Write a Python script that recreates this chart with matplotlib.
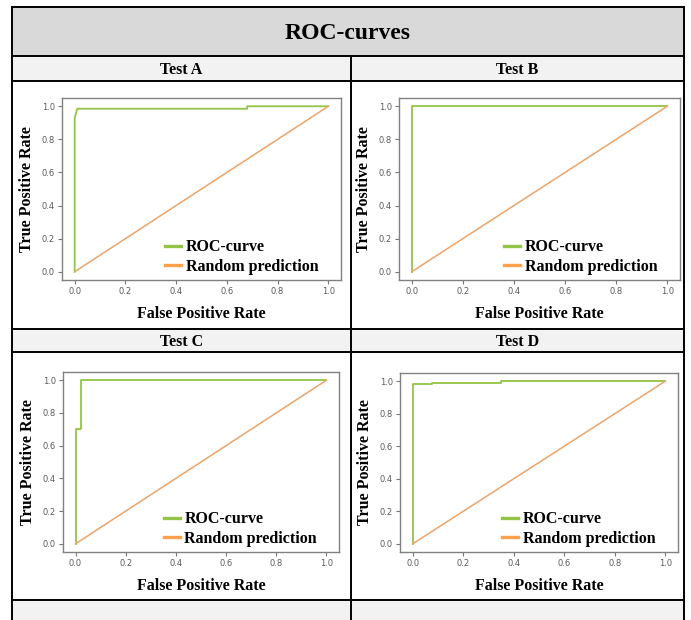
import matplotlib
matplotlib.use("Agg")
import matplotlib.pyplot as plt
from matplotlib.patches import Rectangle
from matplotlib.lines import Line2D

W, H = 691, 620

# ROC data
fpr_a = [0.0, 0.0, 0.01, 0.68, 0.68, 1.0]
tpr_a = [0.0, 0.93, 0.985, 0.985, 1.0, 1.0]
fpr_b = [0.0, 0.0, 1.0]
tpr_b = [0.0, 1.0, 1.0]
fpr_c = [0.0, 0.0, 0.02, 0.02, 1.0]
tpr_c = [0.0, 0.7, 0.7, 1.0, 1.0]
fpr_d = [0.0, 0.0, 0.075, 0.075, 0.35, 0.35, 1.0]
tpr_d = [0.0, 0.982, 0.982, 0.99, 0.99, 1.0, 1.0]
rand_x = [0.0, 1.0]
rand_y = [0.0, 1.0]

titles = ["Test A", "Test B", "Test C", "Test D"]
curves = [(fpr_a, tpr_a), (fpr_b, tpr_b), (fpr_c, tpr_c), (fpr_d, tpr_d)]
ticks = [0.0, 0.2, 0.4, 0.6, 0.8, 1.0]
tick_labels = ["0.0", "0.2", "0.4", "0.6", "0.8", "1.0"]

GREEN = "#93c447"
ORANGE = "#eba46a"
SERIF = "Liberation Serif"

fig = plt.figure(figsize=(W / 100, H / 100), dpi=100)


def fx(x):
    return x / W


def fy(y):
    return 1 - y / H


def box(x0, y0, x1, y1, color):
    fig.patches.append(Rectangle((fx(x0), fy(y1)), fx(x1) - fx(x0), fy(y0) - fy(y1),
                                 transform=fig.transFigure, facecolor=color, edgecolor="none", zorder=0))


def hline(y, x0, x1):
    fig.lines.append(Line2D([fx(x0), fx(x1)], [fy(y), fy(y)], transform=fig.transFigure,
                            color="black", lw=1.4, zorder=5))


def vline(x, y0, y1):
    fig.lines.append(Line2D([fx(x), fx(x)], [fy(y0), fy(y1)], transform=fig.transFigure,
                            color="black", lw=1.4, zorder=5))


L, M, R = 12, 351, 684
# table backgrounds
box(L, 7, R, 56, "#d9d9d9")
box(L, 56, R, 81, "#f2f2f2")
box(L, 329, R, 352, "#f2f2f2")
box(L, 600, R, H, "#f2f2f2")

for y in [7, 56, 81, 329, 352, 600]:
    hline(y, L, R)
vline(L, 7, H)
vline(R, 7, H)
vline(M, 56, H)

fig.text(fx((L + R) / 2), fy(33.5), "ROC-curves", ha="center", va="center",
         family=SERIF, weight="bold", fontsize=17)
head_pos = [((L + M) / 2, 70), ((M + R) / 2, 70), ((L + M) / 2, 342), ((M + R) / 2, 342)]
for t, (cx, cy) in zip(titles, head_pos):
    fig.text(fx(cx), fy(cy), t, ha="center", va="center", family=SERIF, weight="bold", fontsize=11.5)

# axes boxes in pixels: left, top, right, bottom
boxes = [(62, 98, 341, 280), (399, 98, 680, 280), (63, 372, 339, 552), (400, 373, 678, 552)]

for (x0, y0, x1, y1), (fp, tp) in zip(boxes, curves):
    ax = fig.add_axes([fx(x0), fy(y1), fx(x1) - fx(x0), fy(y0) - fy(y1)])
    ax.plot(fp, tp, color=GREEN, lw=1.3, label="ROC-curve")
    ax.plot(rand_x, rand_y, color=ORANGE, lw=1.1, label="Random prediction")
    ax.set_xticks(ticks)
    ax.set_xticklabels(tick_labels)
    ax.set_yticks(ticks)
    ax.set_yticklabels(tick_labels)
    ax.tick_params(labelsize=6, labelcolor="#5a5a5a", color="#777777", length=3, width=0.8, pad=2)
    for s in ax.spines.values():
        s.set_color("#808080")
        s.set_linewidth(1.0)
    ax.set_xlabel("False Positive Rate", family=SERIF, weight="bold", fontsize=11.5, labelpad=7)
    ax.set_ylabel("True Positive Rate", family=SERIF, weight="bold", fontsize=11.5, labelpad=5)
    leg = ax.legend(loc="lower right", bbox_to_anchor=(0.92, 0.03), frameon=False,
                    prop={"family": SERIF, "weight": "bold", "size": 11.5},
                    handlelength=1.0, handletextpad=0.3, labelspacing=0.2,
                    borderpad=0, borderaxespad=0)
    handles = leg.get_lines()
    handles[0].set_color(GREEN)
    handles[1].set_color("#ffa04a")
    for h in handles:
        h.set_linewidth(2.4)

fig.savefig("out.png", dpi=100)
